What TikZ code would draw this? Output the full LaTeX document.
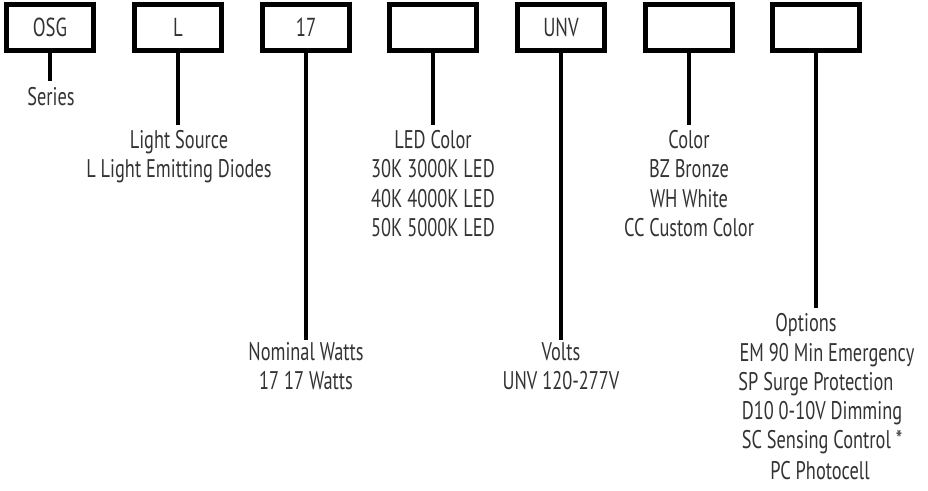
\documentclass[tikz,border=0pt]{standalone}
\usepackage{fontspec}
\setmainfont{PT Sans}[FakeStretch=0.72]
\begin{document}
\begin{tikzpicture}[x=1pt,y=-1pt,
  codebox/.style={draw=black,line width=5pt,minimum width=87pt,minimum height=46pt,inner sep=0pt,font=\fontsize{26}{30}\selectfont,text=black!80},
  conn/.style={line width=4pt,black},
  desc/.style={align=center,inner sep=0pt,text=black!80,font=\fontsize{25.5}{29.5}\selectfont},
  optl/.style={inner sep=0pt,text=black!80,font=\fontsize{25.5}{29.5}\selectfont}]
\useasboundingbox (0,0) rectangle (928,490);
\node[codebox] (b1) at (50,27.5) {OSG};
\node[codebox] (b2) at (178,27.5) {L};
\node[codebox] (b3) at (306,27.5) {17};
\node[codebox] (b4) at (433,27.5) {};
\node[codebox] (b5) at (561,27.5) {UNV};
\node[codebox] (b6) at (689,27.5) {};
\node[codebox] (b7) at (816,27.5) {};
\coordinate (e1) at (50,81);
\coordinate (e2) at (178,125);
\coordinate (e3) at (306,340);
\coordinate (e4) at (433,125);
\coordinate (e5) at (561,340);
\coordinate (e6) at (689,125);
\coordinate (e7) at (816,308);
\draw[conn] (b1.south) -- (e1);
\draw[conn] (b2.south) -- (e2);
\draw[conn] (b3.south) -- (e3);
\draw[conn] (b4.south) -- (e4);
\draw[conn] (b5.south) -- (e5);
\draw[conn] (b6.south) -- (e6);
\draw[conn] (b7.south) -- (e7);
\node[desc,anchor=center] (t1) at (51,97) {Series};
\node[desc,anchor=north] (t2) at (179,130) {Light Source\\L Light Emitting Diodes};
\node[desc,anchor=north] (t3) at (306,342) {Nominal Watts\\17 17 Watts};
\node[desc,anchor=north] (t4) at (433,130) {LED Color\\30K 3000K LED\\40K 4000K LED\\50K 5000K LED};
\node[desc,anchor=north] (t5) at (561,342) {Volts\\UNV 120-277V};
\node[desc,anchor=north] (t6) at (689,130) {Color\\BZ Bronze\\WH White\\CC Custom Color};
\node[optl] (o1) at (806,325) {Options};
\node[optl] (o2) at (827,355) {EM 90 Min Emergency};
\node[optl] (o3) at (816,384) {SP Surge Protection};
\node[optl] (o4) at (822,413) {D10 0-10V Dimming};
\node[optl] (o5) at (822,442) {SC Sensing Control *};
\node[optl] (o6) at (820,471) {PC Photocell};
\end{tikzpicture}
\end{document}
